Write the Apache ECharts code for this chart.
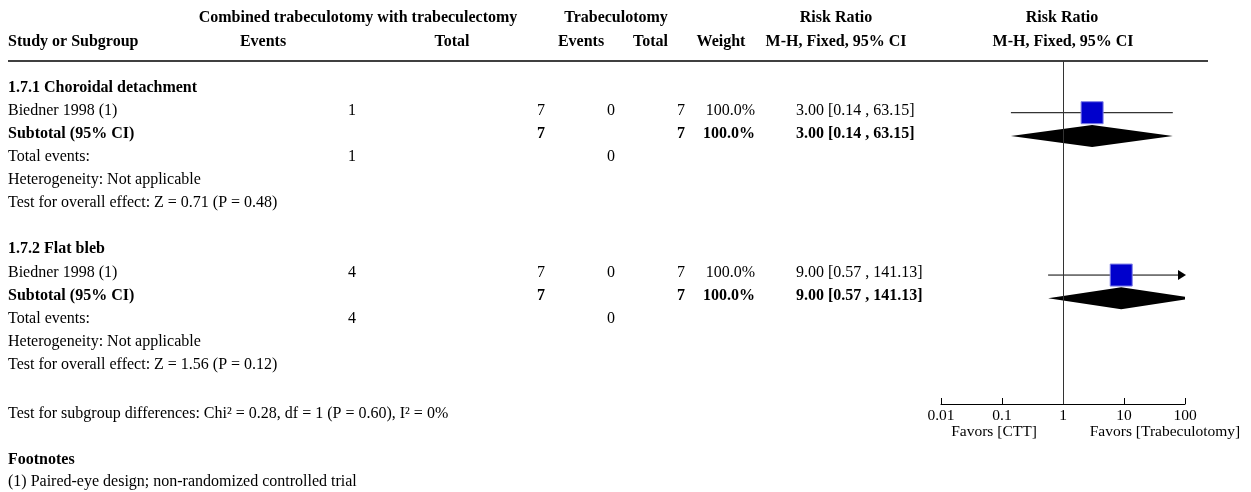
<!DOCTYPE html>
<html>
<head>
<meta charset="utf-8">
<script src="https://cdn.jsdelivr.net/npm/echarts@6/dist/echarts.min.js"></script>
<style>
  html, body { margin: 0; padding: 0; background: #fff; }
  #chart { width: 1251px; height: 492px; }
</style>
</head>
<body>
<div id="chart"></div>
<script>
// Forest plot: combined trabeculotomy with trabeculectomy (CTT) vs trabeculotomy
const subgroupTitles = ['1.7.1 Choroidal detachment', '1.7.2 Flat bleb'];
const studyNames = ['Biedner 1998 (1)', 'Biedner 1998 (1)'];
const cttEvents = [1, 4];
const cttTotal = [7, 7];
const trabEvents = [0, 0];
const trabTotal = [7, 7];
const weights = [100.0, 100.0];
const riskRatio = [3.00, 9.00];
const ciLow = [0.14, 0.57];
const ciHigh = [63.15, 141.13];
const overallZ = ['0.71', '1.56'];
const overallP = ['0.48', '0.12'];
const axisTicks = [0.01, 0.1, 1, 10, 100];
const subgroupTest = 'Test for subgroup differences: Chi\u00b2 = 0.28, df = 1 (P = 0.60), I\u00b2 = 0%';
const footnotes = ['(1) Paired-eye design; non-randomized controlled trial'];

const FONT = '"Liberation Serif", "Times New Roman", serif';
const ROWS_PER_GROUP = 7;
const rowY = r => 87.5 + 23.1 * r;     // text row centre

const chart = echarts.init(document.getElementById('chart'));

function txt(text, x, y, align, bold, size) {
  return {
    type: 'text',
    silent: true,
    style: {
      text: String(text), x: x, y: y,
      font: (bold ? 'bold ' : '') + (size || 16) + 'px ' + FONT,
      fill: '#000',
      align: align || 'left', textAlign: align || 'left',
      verticalAlign: 'middle', textVerticalAlign: 'middle'
    }
  };
}

const fmt2 = v => v.toFixed(2);
const ciText = i => fmt2(riskRatio[i]) + ' [' + fmt2(ciLow[i]) + ' , ' + fmt2(ciHigh[i]) + ']';

// header
const graphics = [
  txt('Combined trabeculotomy with trabeculectomy', 358, 17.5, 'center', true),
  txt('Trabeculotomy', 616, 17.5, 'center', true),
  txt('Risk Ratio', 836, 17.5, 'center', true),
  txt('Risk Ratio', 1062, 17.5, 'center', true),
  txt('Study or Subgroup', 8, 41.5, 'left', true),
  txt('Events', 263, 41.5, 'center', true),
  txt('Total', 452, 41.5, 'center', true),
  txt('Events', 581, 41.5, 'center', true),
  txt('Total', 668, 41.5, 'right', true),
  txt('Weight', 721, 41.5, 'center', true),
  txt('M-H, Fixed, 95% CI', 836, 41.5, 'center', true),
  txt('M-H, Fixed, 95% CI', 1063, 41.5, 'center', true),
  {
    type: 'line', silent: true,
    shape: { x1: 8, y1: 61, x2: 1208, y2: 61 },
    style: { stroke: '#000', lineWidth: 1.5 }
  }
];

// table body
const studyData = [];
const pooledData = [];
subgroupTitles.forEach((title, g) => {
  const base = g * ROWS_PER_GROUP;
  graphics.push(txt(title, 8, rowY(base), 'left', true));
  graphics.push(txt(studyNames[g], 8, rowY(base + 1)));
  graphics.push(txt(cttEvents[g], 352, rowY(base + 1), 'center'));
  graphics.push(txt(cttTotal[g], 545, rowY(base + 1), 'right'));
  graphics.push(txt(trabEvents[g], 611, rowY(base + 1), 'center'));
  graphics.push(txt(trabTotal[g], 685, rowY(base + 1), 'right'));
  graphics.push(txt(weights[g].toFixed(1) + '%', 755, rowY(base + 1), 'right'));
  graphics.push(txt(ciText(g), 796, rowY(base + 1), 'left'));

  graphics.push(txt('Subtotal (95% CI)', 8, rowY(base + 2), 'left', true));
  graphics.push(txt(cttTotal[g], 545, rowY(base + 2), 'right', true));
  graphics.push(txt(trabTotal[g], 685, rowY(base + 2), 'right', true));
  graphics.push(txt(weights[g].toFixed(1) + '%', 755, rowY(base + 2), 'right', true));
  graphics.push(txt(ciText(g), 796, rowY(base + 2), 'left', true));

  graphics.push(txt('Total events:', 8, rowY(base + 3)));
  graphics.push(txt(cttEvents[g], 352, rowY(base + 3), 'center'));
  graphics.push(txt(trabEvents[g], 611, rowY(base + 3), 'center'));
  graphics.push(txt('Heterogeneity: Not applicable', 8, rowY(base + 4)));
  graphics.push(txt('Test for overall effect: Z = ' + overallZ[g] + ' (P = ' + overallP[g] + ')', 8, rowY(base + 5)));

  studyData.push([riskRatio[g], base + 1, ciLow[g], ciHigh[g], weights[g]]);
  pooledData.push([riskRatio[g], base + 2, ciLow[g], ciHigh[g]]);
});
graphics.push(txt(subgroupTest, 8, 413.5));
graphics.push(txt('Footnotes', 8, 459.5, 'left', true));
footnotes.forEach((f, i) => graphics.push(txt(f, 8, 482 + 23 * i)));
graphics.push(txt('Favors [CTT]', 994, 431.5, 'center', false, 15.5));
graphics.push(txt('Favors [Trabeculotomy]', 1165, 431.5, 'center', false, 15.5));

const X_MIN = axisTicks[0], X_MAX = axisTicks[axisTicks.length - 1];

function renderStudy(params, api) {
  const y = api.value(1);
  const lo = api.value(2), hi = api.value(3);
  const c = api.coord([api.value(0), y]);
  const pL = api.coord([Math.max(lo, X_MIN), y]);
  const pR = api.coord([Math.min(hi, X_MAX), y]);
  const side = 22 * Math.sqrt(api.value(4) / 100);
  const children = [
    { type: 'line', shape: { x1: pL[0], y1: pL[1], x2: pR[0], y2: pR[1] },
      style: { stroke: '#000', lineWidth: 1 } }
  ];
  if (hi > X_MAX) {
    children[0].shape.x2 = pR[0] - 6;
    children.push({ type: 'polygon',
      shape: { points: [[pR[0] - 7, pR[1] - 5], [pR[0] + 1, pR[1]], [pR[0] - 7, pR[1] + 5]] },
      style: { fill: '#000' } });
  }
  if (lo < X_MIN) {
    children[0].shape.x1 = pL[0] + 6;
    children.push({ type: 'polygon',
      shape: { points: [[pL[0] + 7, pL[1] - 5], [pL[0] - 1, pL[1]], [pL[0] + 7, pL[1] + 5]] },
      style: { fill: '#000' } });
  }
  children.push({ type: 'rect',
    shape: { x: c[0] - side / 2, y: c[1] - side / 2, width: side, height: side },
    style: { fill: '#0000CC', stroke: '#7f7fe6', lineWidth: 1 } });
  return { type: 'group', children: children };
}

function renderPooled(params, api) {
  const y = api.value(1);
  const c = api.coord([api.value(0), y]);
  const l = api.coord([api.value(2), y]);
  const r = api.coord([api.value(3), y]);
  const h = 11;
  const xmin = api.coord([X_MIN, y])[0], xmax = api.coord([X_MAX, y])[0];
  const pts = [];
  if (l[0] < xmin) {
    const t = (xmin - c[0]) / (l[0] - c[0]);
    pts.push([xmin, c[1] + h * (1 - t)], [xmin, c[1] - h * (1 - t)]);
  } else {
    pts.push([l[0], c[1]]);
  }
  pts.push([c[0], c[1] - h]);
  if (r[0] > xmax) {
    const t = (xmax - c[0]) / (r[0] - c[0]);
    pts.push([xmax, c[1] - h * (1 - t)], [xmax, c[1] + h * (1 - t)]);
  } else {
    pts.push([r[0], c[1]]);
  }
  pts.push([c[0], c[1] + h]);
  return { type: 'polygon', shape: { points: pts }, style: { fill: '#000' } };
}

chart.setOption({
  animation: false,
  backgroundColor: '#fff',
  textStyle: { fontFamily: FONT },
  grid: { left: 941, right: 66, top: 61, bottom: 88 },
  xAxis: {
    type: 'log', logBase: 10, min: X_MIN, max: X_MAX, position: 'bottom',
    axisLine: { onZero: false, lineStyle: { color: '#000', width: 1 } },
    axisTick: { inside: true, length: 6, lineStyle: { color: '#000' } },
    minorTick: { show: false },
    splitLine: { show: false },
    axisLabel: {
      color: '#000', fontSize: 15.5, fontFamily: FONT, margin: 4,
      formatter: v => String(axisTicks.find(t => Math.abs(Math.log10(t) - Math.log10(v)) < 1e-6) ?? v)
    }
  },
  yAxis: {
    type: 'value', inverse: true, min: -1.23, max: 13.56,
    show: false
  },
  graphic: graphics,
  series: [
    {
      type: 'custom', renderItem: renderPooled, data: pooledData,
      encode: { x: 0, y: 1 }, silent: true, z: 3,
      markLine: {
        silent: true, symbol: ['none', 'none'],
        label: { show: false },
        lineStyle: { color: '#333', width: 1, type: 'solid' },
        data: [{ xAxis: 1 }]
      }
    },
    { type: 'custom', renderItem: renderStudy, data: studyData, encode: { x: 0, y: 1 }, silent: true, z: 4 }
  ]
});
</script>
</body>
</html>
